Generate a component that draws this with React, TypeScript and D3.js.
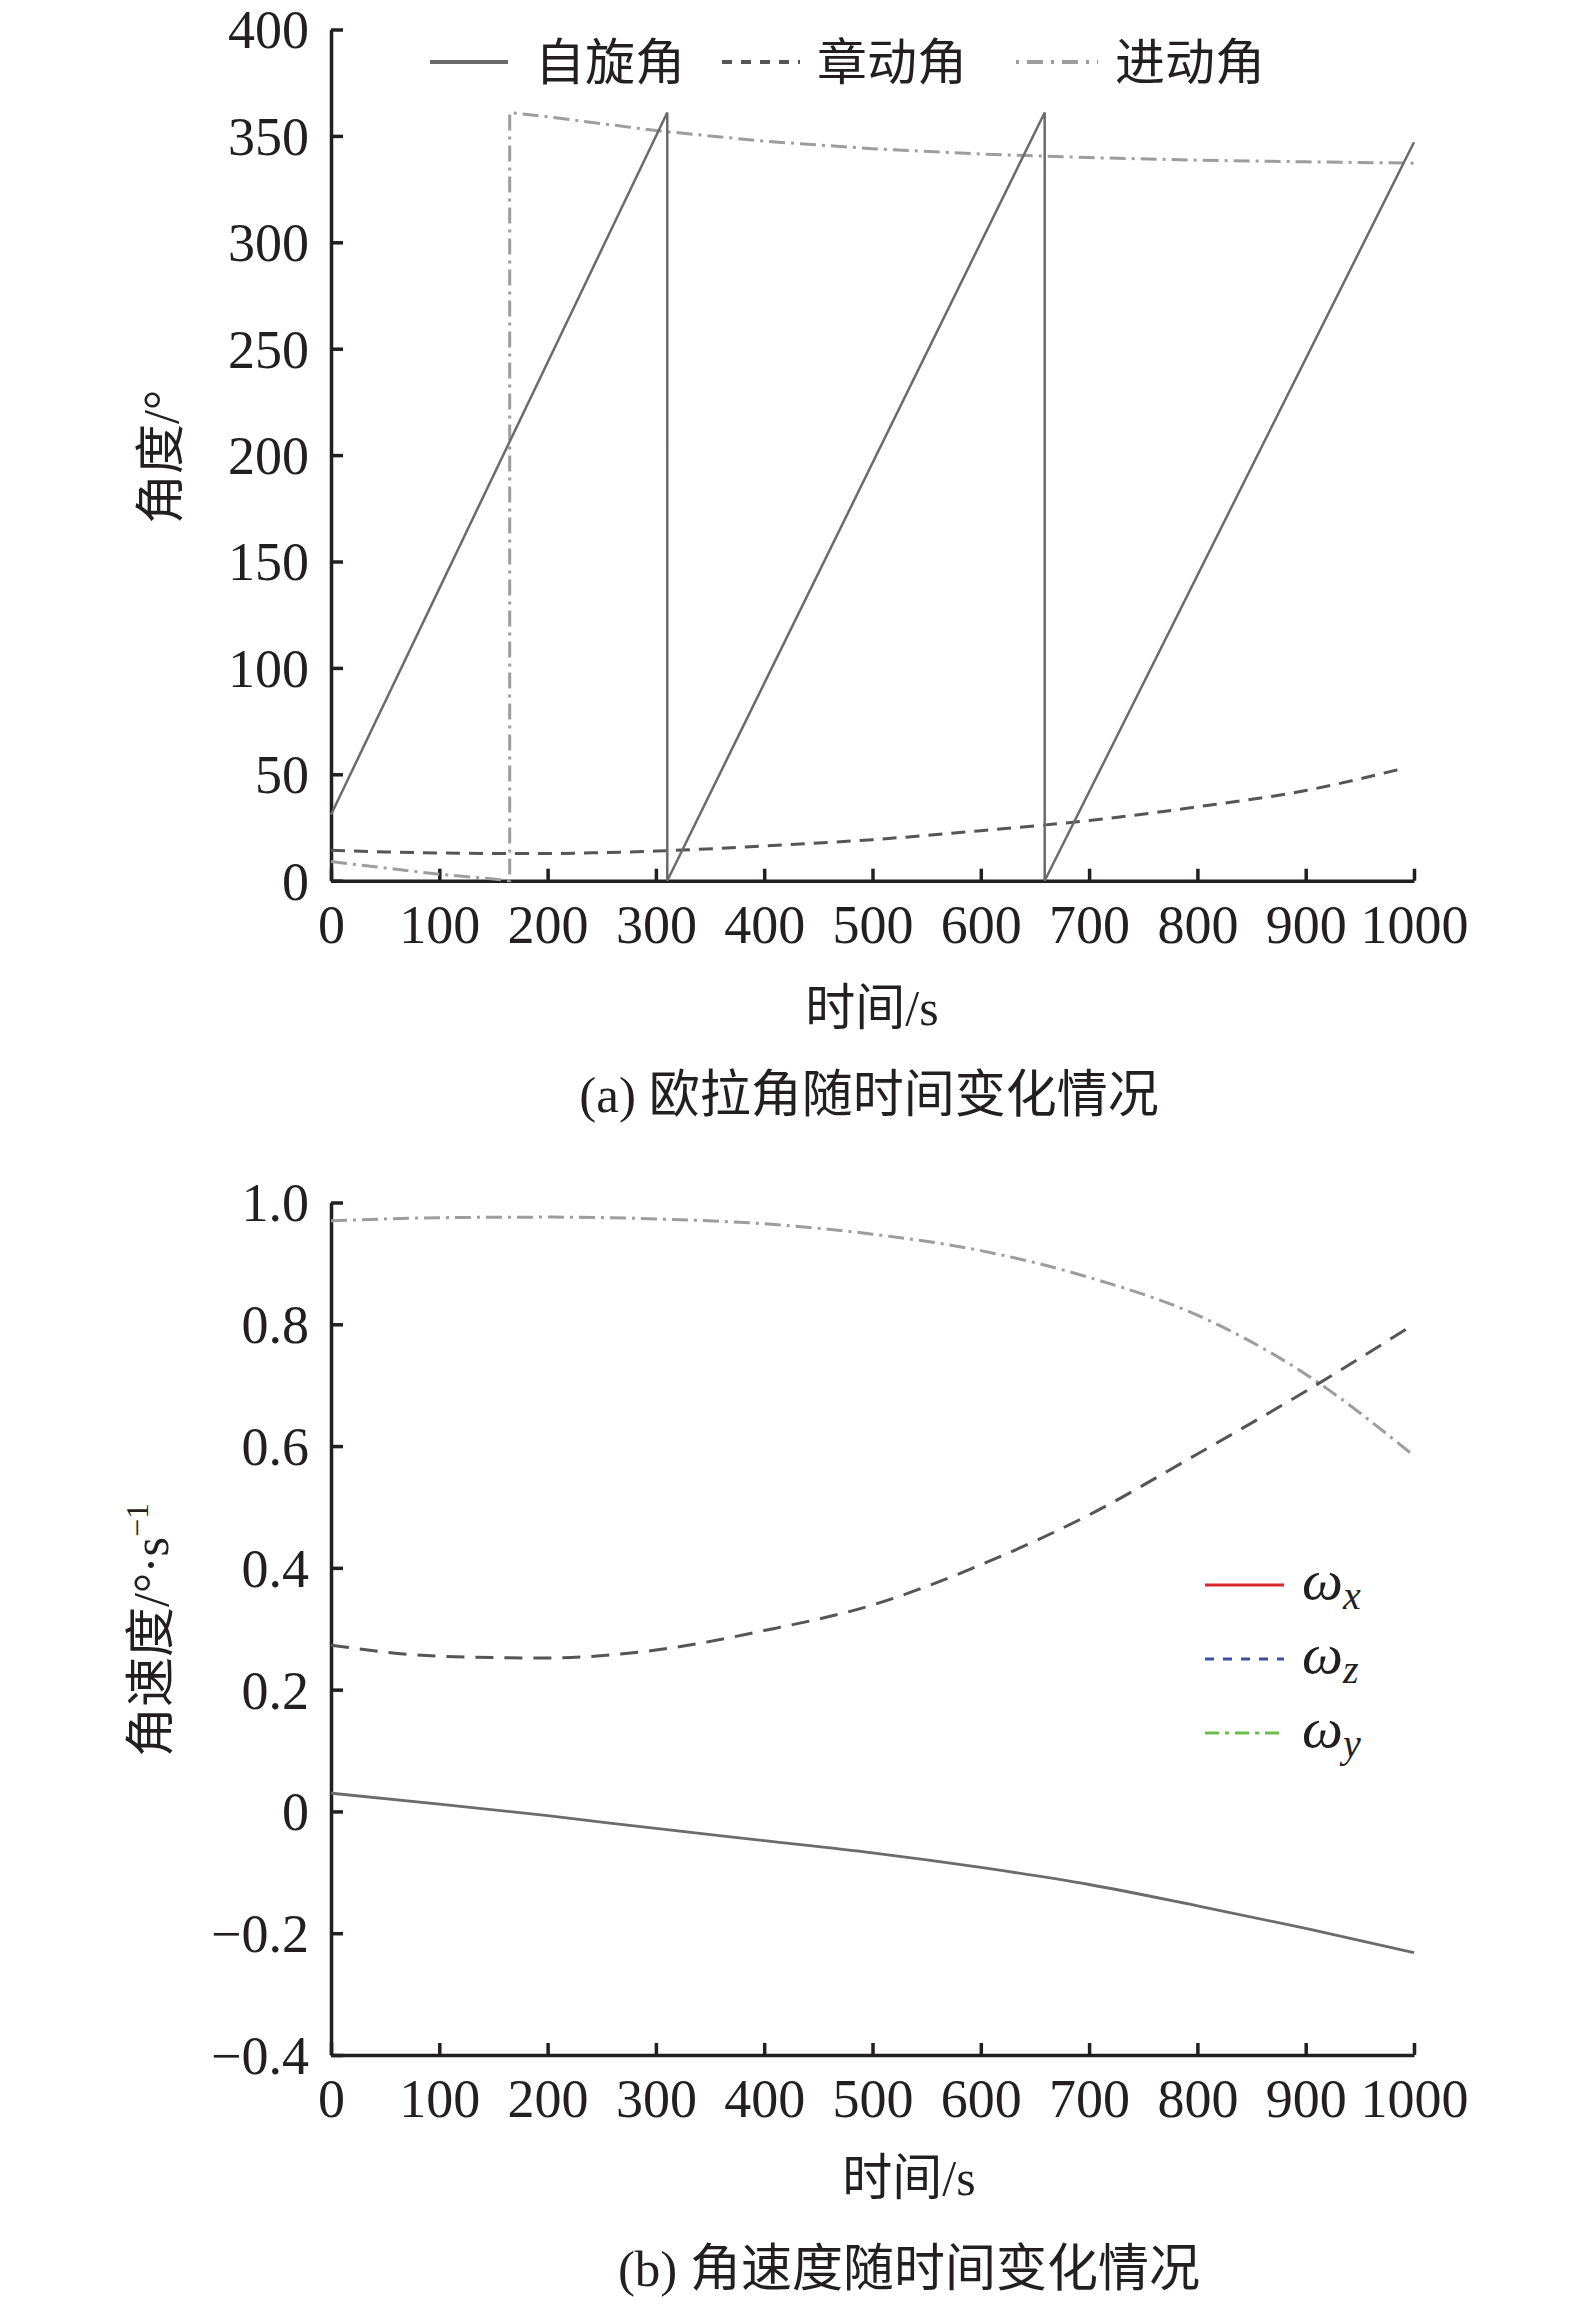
import React, { useEffect, useRef } from 'react';
import * as d3 from 'd3';

// (a) Euler angles
const spinTime = [0, 310.5, 310.5, 659, 659, 1000];
const spinAngle = [31, 361, 0, 361, 0, 347];

const nutationTime = [0, 50, 100, 150, 200, 250, 300, 400, 500, 600, 700, 800, 900, 988];
const nutationAngle = [14.3, 13.5, 13, 12.8, 12.8, 13.2, 13.9, 16.3, 19.3, 23.5, 28.3, 34.7, 42.4, 52.5];

const precessionTime = [0, 50, 100, 150, 165, 165, 200, 300, 400, 500, 600, 700, 800, 900, 1000];
const precessionAngle = [9, 6, 3, 0.8, 0, 361, 359, 352.5, 347.5, 344, 341.5, 339.8, 338.6, 337.8, 337.2];

// (b) angular velocity
const rateTime = [0, 100, 200, 300, 400, 500, 600, 700, 800, 900, 1000];
const omegaX = [0.03, 0.012, -0.007, -0.028, -0.048, -0.068, -0.092, -0.12, -0.155, -0.192, -0.232];
const omegaZ = [0.273, 0.255, 0.252, 0.265, 0.297, 0.339, 0.405, 0.487, 0.587, 0.69, 0.8];
const omegaY = [0.97, 0.975, 0.976, 0.973, 0.965, 0.948, 0.921, 0.877, 0.815, 0.718, 0.584];

const timeTicks = [0, 100, 200, 300, 400, 500, 600, 700, 800, 900, 1000];
const angleTicks = [0, 50, 100, 150, 200, 250, 300, 350, 400];
const rateTicks = [-0.4, -0.2, 0, 0.2, 0.4, 0.6, 0.8, 1.0];

const topLegend = ['自旋角', '章动角', '进动角'];
const bottomLegend = ['x', 'z', 'y'];

const SERIF = '"Liberation Serif", "Times New Roman", "Noto Sans CJK SC", serif';
const INK = '#231f20';

const W = 1575;
const H = 2305;

const App: React.FC = () => {
  const ref = useRef<SVGSVGElement | null>(null);

  useEffect(() => {
    if (!ref.current) return;
    const svg = d3.select<SVGSVGElement, unknown>(ref.current);
    svg.selectAll('*').remove();

    const x = d3.scaleLinear().domain([0, 1000]).range([331, 1414]);
    const yA = d3.scaleLinear().domain([0, 400]).range([880.7, 29.5]);
    const yB = d3.scaleLinear().domain([-0.4, 1.0]).range([2055, 1202.5]);

    const styleAxis = (g: d3.Selection<SVGGElement, unknown, null, undefined>) => {
      g.selectAll('path.domain').attr('stroke', INK).attr('stroke-width', 3.5);
      g.selectAll('.tick line').attr('stroke', INK).attr('stroke-width', 3.5);
      g.selectAll('.tick text').attr('fill', INK).attr('font-size', 54).attr('font-family', SERIF);
    };

    const drawAxes = (y: d3.ScaleLinear<number, number>, ticks: number[], fmt: (v: number) => string) => {
      const yAxis = svg
        .append('g')
        .attr('transform', `translate(${x(0)},0)`)
        .call(d3.axisLeft(y).tickValues(ticks).tickSizeInner(-12).tickSizeOuter(0).tickPadding(22).tickFormat((d) => fmt(+d)));
      styleAxis(yAxis);
      yAxis.selectAll('.tick text').attr('dy', '0.34em');

      const xAxis = svg
        .append('g')
        .attr('transform', `translate(0,${y.range()[0]})`)
        .call(d3.axisBottom(x).tickValues(timeTicks).tickSizeInner(-12).tickSizeOuter(0).tickPadding(24).tickFormat((d) => String(d)));
      styleAxis(xAxis);
    };

    // ---------- (a) ----------
    drawAxes(yA, angleTicks, (v) => String(v));

    const lineA = (xs: number[], ys: number[], curve: d3.CurveFactory) =>
      d3
        .line<number>()
        .x((_d, i) => x(xs[i]))
        .y((d) => yA(d))
        .curve(curve)(ys);

    svg.append('path').attr('d', lineA(precessionTime, precessionAngle, d3.curveLinear) || '')
      .attr('fill', 'none').attr('stroke', '#9d9d9d').attr('stroke-width', 3).attr('stroke-dasharray', '16,6,3,6');
    svg.append('path').attr('d', lineA(nutationTime, nutationAngle, d3.curveMonotoneX) || '')
      .attr('fill', 'none').attr('stroke', '#555555').attr('stroke-width', 3).attr('stroke-dasharray', '14,9');
    svg.append('path').attr('d', lineA(spinTime, spinAngle, d3.curveLinear) || '')
      .attr('fill', 'none').attr('stroke', '#6b6b6b').attr('stroke-width', 2.5);

    const topLegendStyles = [
      { x0: 430, x1: 508, tx: 535, color: '#6b6b6b', dash: null as string | null, w: 4 },
      { x0: 722, x1: 800, tx: 817, color: '#555555', dash: '10,9', w: 4 },
      { x0: 1016, x1: 1098, tx: 1115, color: '#9d9d9d', dash: '3,8,16,8', w: 4 },
    ];
    topLegend.forEach((name, i) => {
      const s = topLegendStyles[i];
      const ln = svg.append('line').attr('x1', s.x0).attr('x2', s.x1).attr('y1', 62).attr('y2', 62)
        .attr('stroke', s.color).attr('stroke-width', s.w);
      if (s.dash) ln.attr('stroke-dasharray', s.dash);
      svg.append('text').attr('x', s.tx).attr('y', 62).attr('dy', '0.36em')
        .attr('font-size', 50).attr('font-family', SERIF).attr('fill', INK).text(name);
    });

    svg.append('text').attr('transform', 'translate(160,457) rotate(-90)').attr('text-anchor', 'middle')
      .attr('dy', '0.36em').attr('font-size', 50).attr('font-family', SERIF).attr('fill', INK).text('角度/°');
    svg.append('text').attr('x', 872).attr('y', 1007).attr('text-anchor', 'middle').attr('dy', '0.36em')
      .attr('font-size', 50).attr('font-family', SERIF).attr('fill', INK).text('时间/s');
    svg.append('text').attr('x', 869).attr('y', 1094).attr('text-anchor', 'middle').attr('dy', '0.36em')
      .attr('font-size', 51).attr('font-family', SERIF).attr('fill', INK).text('(a) 欧拉角随时间变化情况');

    // ---------- (b) ----------
    drawAxes(yB, rateTicks, (v) => (v === 0 ? '0' : v < 0 ? `\u2212${Math.abs(v).toFixed(1)}` : v.toFixed(1)));

    const lineB = (ys: number[]) =>
      d3
        .line<number>()
        .x((_d, i) => x(rateTime[i]))
        .y((d) => yB(d))
        .curve(d3.curveMonotoneX)(ys);

    svg.append('path').attr('d', lineB(omegaY) || '').attr('fill', 'none').attr('stroke', '#9d9d9d')
      .attr('stroke-width', 3).attr('stroke-dasharray', '16,6,3,6');
    svg.append('path').attr('d', lineB(omegaZ) || '').attr('fill', 'none').attr('stroke', '#555555')
      .attr('stroke-width', 3).attr('stroke-dasharray', '18,11');
    svg.append('path').attr('d', lineB(omegaX) || '').attr('fill', 'none').attr('stroke', '#6b6b6b')
      .attr('stroke-width', 2.8);

    const bottomLegendStyles = [
      { y: 1585, color: '#d9262e', dash: null as string | null },
      { y: 1659, color: '#3c4fa0', dash: '9,9' },
      { y: 1733, color: '#6abf4b', dash: '14,6,4,6' },
    ];
    bottomLegend.forEach((sub, i) => {
      const s = bottomLegendStyles[i];
      const ln = svg.append('line').attr('x1', 1205).attr('x2', 1284).attr('y1', s.y).attr('y2', s.y)
        .attr('stroke', s.color).attr('stroke-width', 3);
      if (s.dash) ln.attr('stroke-dasharray', s.dash);
      const t = svg.append('text').attr('x', 1302).attr('y', s.y + 14).attr('font-family', SERIF)
        .attr('font-style', 'italic').attr('fill', INK);
      t.append('tspan').attr('font-size', 58).text('ω');
      t.append('tspan').attr('font-size', 40).attr('dy', 10).text(sub);
    });

    const yTitle = svg.append('text').attr('transform', 'translate(150,1630) rotate(-90)').attr('text-anchor', 'middle')
      .attr('dy', '0.36em').attr('font-size', 50).attr('font-family', SERIF).attr('fill', INK);
    yTitle.append('tspan').text('角速度/°·s');
    yTitle.append('tspan').attr('font-size', 32).attr('dy', -20).text('−1');

    svg.append('text').attr('x', 909).attr('y', 2177).attr('text-anchor', 'middle').attr('dy', '0.36em')
      .attr('font-size', 50).attr('font-family', SERIF).attr('fill', INK).text('时间/s');
    svg.append('text').attr('x', 909).attr('y', 2268).attr('text-anchor', 'middle').attr('dy', '0.36em')
      .attr('font-size', 51).attr('font-family', SERIF).attr('fill', INK).text('(b) 角速度随时间变化情况');
  }, []);

  return (
    <svg
      ref={ref}
      width={W}
      height={H}
      style={{ position: 'absolute', left: 0, top: 0, background: '#ffffff', display: 'block' }}
    />
  );
};

export default App;
